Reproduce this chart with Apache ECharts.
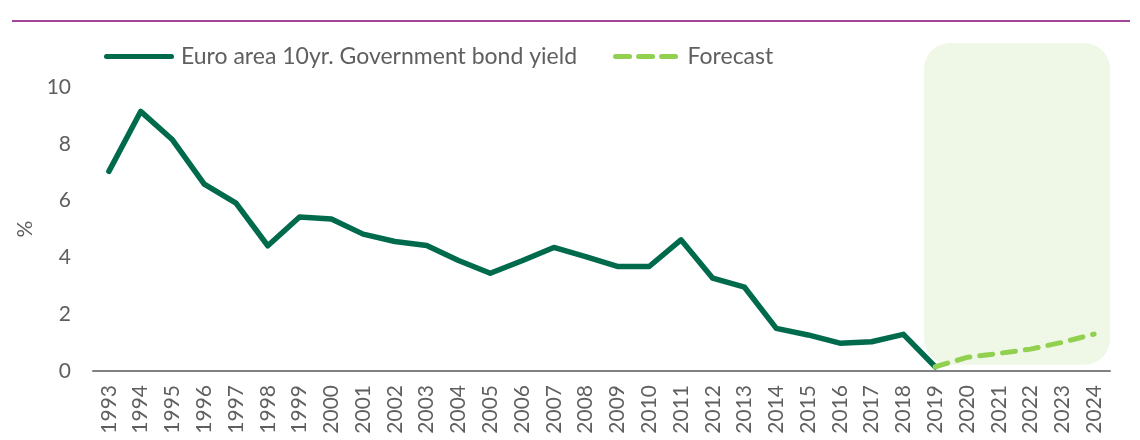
<!DOCTYPE html>
<html>
<head>
<meta charset="utf-8">
<title>Euro area 10yr. Government bond yield</title>
<script src="https://cdn.jsdelivr.net/npm/echarts@6/dist/echarts.min.js"></script>
<style>
  html, body { margin: 0; padding: 0; background: #ffffff; }
  #chart { width: 1140px; height: 440px; }
</style>
</head>
<body>
<div id="chart"></div>
<script>
// Years on the category axis
const years = ['1993','1994','1995','1996','1997','1998','1999','2000','2001','2002',
  '2003','2004','2005','2006','2007','2008','2009','2010','2011','2012','2013','2014',
  '2015','2016','2017','2018','2019','2020','2021','2022','2023','2024'];

// Observed yield, 1993 to 2019 (%)
const yieldValues = [7.03, 9.14, 8.14, 6.58, 5.91, 4.41, 5.42, 5.35, 4.82, 4.56,
  4.42, 3.89, 3.44, 3.88, 4.35, 4.03, 3.68, 3.68, 4.62, 3.27, 2.95, 1.50,
  1.27, 0.98, 1.03, 1.29, 0.15];

// Forecast path, 2019 to 2024 (%)
const forecastYears = ['2019','2020','2021','2022','2023','2024'];
const forecastValues = [0.15, 0.48, 0.62, 0.77, 1.01, 1.30];

// Y axis ticks
const yTicks = [0, 2, 4, 6, 8, 10];

const seriesNames = ['Euro area 10yr. Government bond yield', 'Forecast'];

const textGrey = '#5f5f5f';
const fontFamily = 'Lato, "Liberation Sans", sans-serif';
const solidGreen = '#006B4C';
const lightGreen = '#92D050';

// Forecast series aligned on the full category axis
const forecastData = years.map(y => {
  const i = forecastYears.indexOf(y);
  return i >= 0 ? forecastValues[i] : null;
});

// Legend icons: a thick rounded bar and three rounded dashes
const solidIcon = 'path://M2.5,0 H67.5 A2.5,2.5 0 0 1 67.5,5 H2.5 A2.5,2.5 0 0 1 2.5,0 Z';
const dashIcon = 'path://M2.5,0 H16.5 A2.5,2.5 0 0 1 16.5,5 H2.5 A2.5,2.5 0 0 1 2.5,0 Z ' +
  'M25.5,0 H39.5 A2.5,2.5 0 0 1 39.5,5 H25.5 A2.5,2.5 0 0 1 25.5,0 Z ' +
  'M48.5,0 H62.5 A2.5,2.5 0 0 1 62.5,5 H48.5 A2.5,2.5 0 0 1 48.5,0 Z';

const chart = echarts.init(document.getElementById('chart'), null, { renderer: 'canvas' });

chart.setOption({
  animation: false,
  backgroundColor: '#ffffff',
  textStyle: { fontFamily: fontFamily },
  graphic: [{
    type: 'line',
    shape: { x1: 12, y1: 21, x2: 1130, y2: 21 },
    style: { stroke: '#A3479B', lineWidth: 2 },
    silent: true
  }],
  grid: { left: 93, right: 30, top: 87, bottom: 69 },
  legend: {
    data: [
      { name: seriesNames[0], icon: solidIcon },
      { name: seriesNames[1], icon: dashIcon }
    ],
    left: 99,
    top: 40,
    itemWidth: 70,
    itemHeight: 5,
    itemGap: 36,
    textStyle: { color: textGrey, fontSize: 23, fontFamily: fontFamily, padding: [0, 0, 0, 2] }
  },
  xAxis: {
    type: 'category',
    data: years,
    boundaryGap: true,
    axisLine: { lineStyle: { color: '#808080', width: 2 } },
    axisTick: { show: false },
    axisLabel: {
      rotate: 90,
      interval: 0,
      margin: 14,
      color: textGrey,
      fontSize: 21,
      fontFamily: fontFamily
    }
  },
  yAxis: {
    type: 'value',
    min: yTicks[0],
    max: yTicks[yTicks.length - 1],
    interval: 2,
    name: '%',
    nameLocation: 'middle',
    nameRotate: 90,
    nameGap: 54,
    nameTextStyle: { color: textGrey, fontSize: 21, fontFamily: fontFamily },
    axisLine: { show: false },
    axisTick: { show: false },
    splitLine: { show: false },
    axisLabel: { color: textGrey, fontSize: 21, margin: 22, fontFamily: fontFamily }
  },
  series: [
    {
      // shaded forecast period
      type: 'custom',
      name: 'forecast-period',
      z: 1,
      silent: true,
      clip: false,
      data: [[years.indexOf(forecastYears[0]), years.indexOf(forecastYears[forecastYears.length - 1])]],
      renderItem: function (params, api) {
        const band = api.size([1, 0])[0];
        const start = api.coord([api.value(0), 0]);
        const end = api.coord([api.value(1), 0]);
        const top = api.coord([api.value(0), 11.55])[1];
        const bottom = api.coord([api.value(0), 0.22])[1];
        const x = start[0] - band * 0.35;
        const w = end[0] + band * 0.5 - x;
        return {
          type: 'rect',
          shape: { x: x, y: top, width: w, height: bottom - top, r: 26 },
          style: { fill: '#EFF8E6' }
        };
      }
    },
    {
      name: seriesNames[0],
      type: 'line',
      z: 3,
      data: yieldValues,
      symbol: 'none',
      color: solidGreen,
      itemStyle: { color: solidGreen },
      lineStyle: { color: solidGreen, width: 5.5, join: 'round', cap: 'round' }
    },
    {
      name: seriesNames[1],
      type: 'line',
      z: 4,
      data: forecastData,
      symbol: 'none',
      color: lightGreen,
      itemStyle: { color: lightGreen },
      lineStyle: { color: lightGreen, width: 5, type: [13, 10], cap: 'round', join: 'round' }
    }
  ]
});
</script>
</body>
</html>
